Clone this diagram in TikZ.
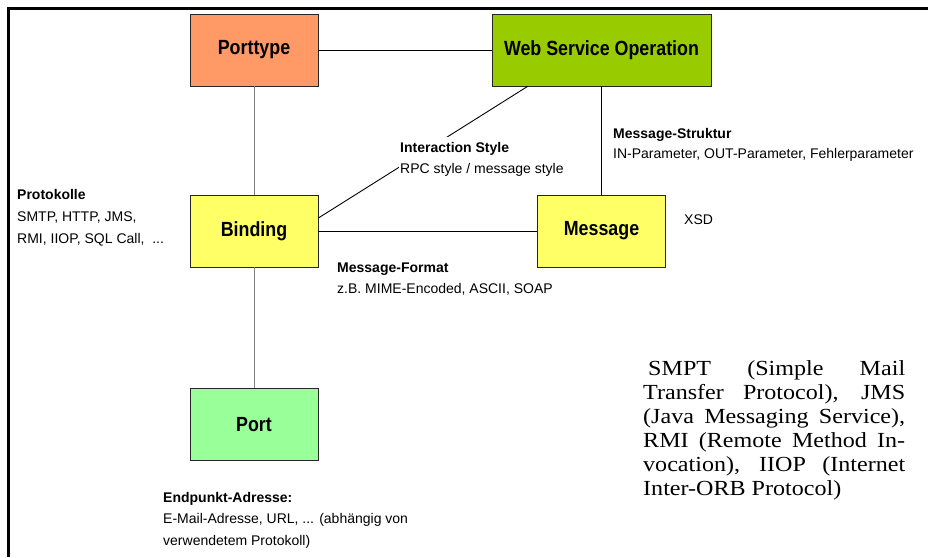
\documentclass[tikz,border=0pt]{standalone}
\usepackage{fontspec}
\setmainfont{Liberation Sans}
\newfontfamily\boxfont[FakeStretch=0.87]{Liberation Sans}
\newfontfamily\notefont[FakeStretch=1.12]{Liberation Serif}
\usetikzlibrary{calc}
\definecolor{porttypefill}{HTML}{FF9966}
\definecolor{operationfill}{HTML}{99CC00}
\definecolor{bindingfill}{HTML}{FFFF66}
\definecolor{portfill}{HTML}{99FF99}
\begin{document}
\begin{tikzpicture}[x=1pt,y=-1pt,
  box/.style={draw=black!85, line width=0.8pt, minimum width=128pt, minimum height=72pt,
    inner sep=0pt, font=\boxfont\bfseries\fontsize{20.5}{24}\selectfont},
  link/.style={line width=0.9pt, black},
  greylink/.style={line width=0.9pt, black!50},
  lbl/.style={anchor=base west, align=left, inner sep=0pt, font=\fontsize{14}{21}\selectfont},
  frameline/.style={line width=3pt, black}]
\useasboundingbox (0,0) rectangle (928,557);

% outer frame (top and left edges only)
\draw[frameline] (928,8) -- (8,8) -- (8,557);

% model elements
\node[box, fill=porttypefill] (porttype) at (254,50) {Porttype};
\node[box, fill=operationfill, minimum width=219pt] (operation) at (601.5,50) {Web Service Operation};
\node[box, fill=bindingfill] (binding) at (254,231) {Binding};
\node[box, fill=bindingfill] (message) at (601.5,231) {Message};
\node[box, fill=portfill] (port) at (254,424.5) {Port};

% relations
\draw[link] (porttype) -- (operation);
\draw[greylink] (porttype) -- (binding);
\draw[greylink] (binding) -- (port);
\draw[link] (binding) -- (message);
\draw[link] (operation) -- (message);
\coordinate (styletop) at ($(operation.south west)+(36,0)$);
\coordinate (stylebot) at ($(binding.east)+(0,-13)$);
\draw[link] (styletop) -- (stylebot);

% annotations (anchored at the baseline of their last line)
\node[lbl, fill=white, inner xsep=1pt, inner ysep=5pt] (style) at (399,173)
  {\textbf{Interaction Style}\\RPC style / message style};
\node[lbl, font=\fontsize{14}{20}\selectfont] (struktur) at (613,158)
  {\textbf{Message-Struktur}\\IN-Parameter, OUT-Parameter, Fehlerparameter};
\node[lbl] (format) at (337,293)
  {\textbf{Message-Format}\\z.B. MIME-Encoded, ASCII, SOAP};
\node[lbl] (xsd) at (684,224) {XSD};
\node[lbl, font=\fontsize{14}{22}\selectfont] (protokolle) at (17,243)
  {\textbf{Protokolle}\\SMTP, HTTP, JMS,\\RMI, IIOP, SQL Call,\ \ ...};
\node[lbl, font=\fontsize{14}{21.5}\selectfont] (endpunkt) at (163,545)
  {\textbf{Endpunkt-Adresse:}\\E-Mail-Adresse, URL, ... (abhängig von\\verwendetem Protokoll)};

% protocol glossary
\node[anchor=base west, inner sep=0pt, align=left,
  font=\notefont\fontsize{21.5}{24}\selectfont] (glossary) at (643,495)
  {\hspace*{5pt}\makebox[257pt][s]{SMPT (Simple Mail}\\
   \makebox[262pt][s]{Transfer Protocol), JMS}\\
   \makebox[262pt][s]{(Java Messaging Service),}\\
   \makebox[262pt][s]{RMI (Remote Method In-}\\
   \makebox[262pt][s]{vocation), IIOP (Internet}\\
   Inter-ORB Protocol)};
\end{tikzpicture}
\end{document}
